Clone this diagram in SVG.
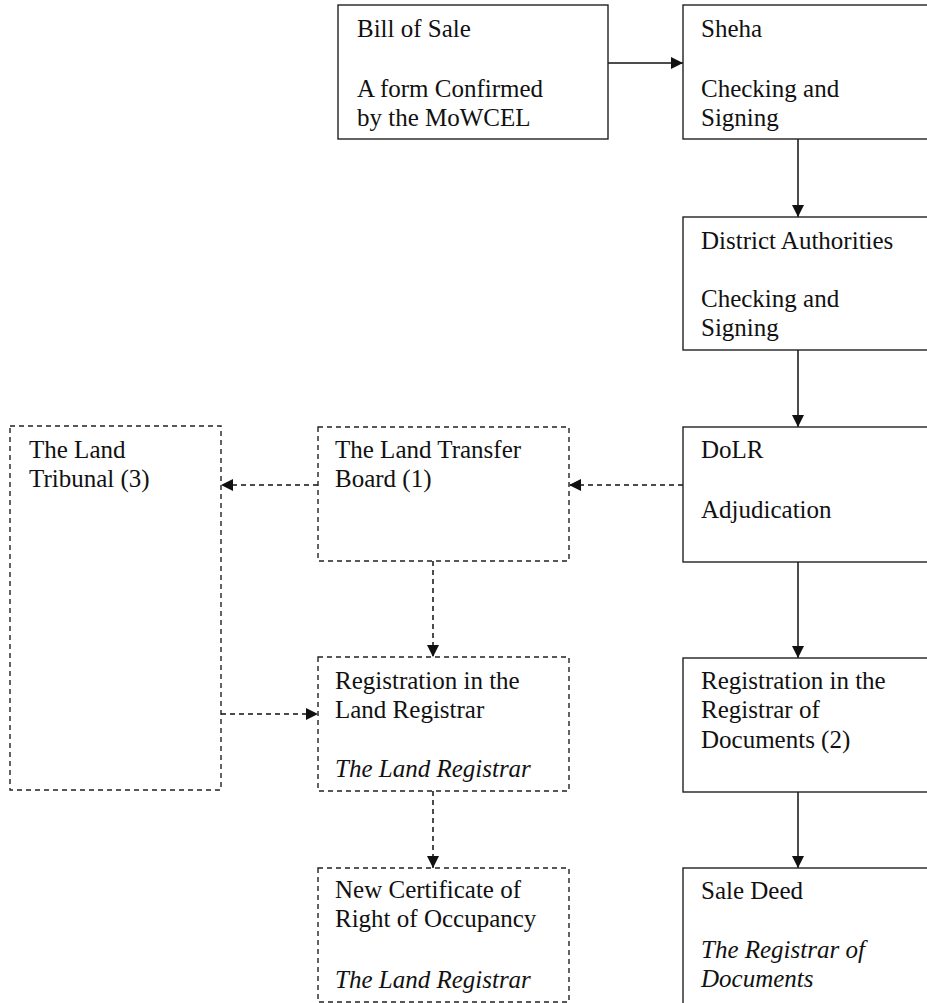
<svg xmlns="http://www.w3.org/2000/svg" width="927" height="1003" viewBox="0 0 927 1003">
<style>
.box{fill:#fff;stroke:#222;stroke-width:1.4}
.dbox{fill:#fff;stroke:#222;stroke-width:1.4;stroke-dasharray:5 4}
.t{font-family:"Liberation Serif","Times New Roman",serif;font-size:25px;fill:#111}
.i{font-style:italic}
.c{stroke:#111;stroke-width:1.5;fill:none}
.d{stroke:#111;stroke-width:1.5;fill:none;stroke-dasharray:5 4}
</style>
<defs>
<marker id="ahv" viewBox="0 0 10 10" refX="10" refY="5" markerWidth="12" markerHeight="12" markerUnits="userSpaceOnUse" orient="auto"><path d="M0,0 L10,5 L0,10 z" fill="#111"/></marker>
</defs>
<g id="connectors">
<line class="c" x1="608" y1="63" x2="683" y2="63" marker-end="url(#ahv)"/>
<line class="c" x1="798" y1="139" x2="798" y2="217" marker-end="url(#ahv)"/>
<line class="c" x1="798" y1="350" x2="798" y2="427" marker-end="url(#ahv)"/>
<line class="c" x1="798" y1="562" x2="798" y2="658" marker-end="url(#ahv)"/>
<line class="c" x1="798" y1="792" x2="798" y2="868" marker-end="url(#ahv)"/>
<line class="d" x1="683" y1="485" x2="569" y2="485" marker-end="url(#ahv)"/>
<line class="d" x1="318" y1="485" x2="221" y2="485" marker-end="url(#ahv)"/>
<line class="d" x1="433" y1="561" x2="433" y2="657" marker-end="url(#ahv)"/>
<line class="d" x1="221" y1="714" x2="318" y2="714" marker-end="url(#ahv)"/>
<line class="d" x1="433" y1="791" x2="433" y2="868" marker-end="url(#ahv)"/>
</g>
<g id="bill-of-sale">
<rect class="box" x="338" y="5" width="270" height="134"/>
<text class="t" x="357" y="37">Bill of Sale</text>
<text class="t" x="357" y="97">A form Confirmed</text>
<text class="t" x="357" y="126">by the MoWCEL</text>
</g>
<g id="sheha">
<rect class="box" x="683" y="5" width="260" height="134"/>
<text class="t" x="701" y="37">Sheha</text>
<text class="t" x="701" y="97">Checking and</text>
<text class="t" x="701" y="126">Signing</text>
</g>
<g id="district-authorities">
<rect class="box" x="683" y="217" width="260" height="133"/>
<text class="t" x="701" y="249">District Authorities</text>
<text class="t" x="701" y="307">Checking and</text>
<text class="t" x="701" y="336">Signing</text>
</g>
<g id="dolr">
<rect class="box" x="683" y="427" width="260" height="135"/>
<text class="t" x="701" y="458">DoLR</text>
<text class="t" x="701" y="518">Adjudication</text>
</g>
<g id="registrar-of-documents">
<rect class="box" x="683" y="658" width="260" height="134"/>
<text class="t" x="701" y="689">Registration in the</text>
<text class="t" x="701" y="718">Registrar of</text>
<text class="t" x="701" y="748">Documents (2)</text>
</g>
<g id="sale-deed">
<rect class="box" x="683" y="868" width="260" height="160"/>
<text class="t" x="701" y="899">Sale Deed</text>
<text class="t i" x="701" y="958">The Registrar of</text>
<text class="t i" x="701" y="987">Documents</text>
</g>
<g id="land-transfer-board">
<rect class="dbox" x="318" y="427" width="251" height="134"/>
<text class="t" x="335" y="458">The Land Transfer</text>
<text class="t" x="335" y="487">Board (1)</text>
</g>
<g id="land-tribunal">
<rect class="dbox" x="10" y="426" width="211" height="364"/>
<text class="t" x="29" y="458">The Land</text>
<text class="t" x="29" y="487">Tribunal (3)</text>
</g>
<g id="land-registrar">
<rect class="dbox" x="318" y="657" width="251" height="134"/>
<text class="t" x="335" y="689">Registration in the</text>
<text class="t" x="335" y="718">Land Registrar</text>
<text class="t i" x="335" y="777">The Land Registrar</text>
</g>
<g id="new-certificate">
<rect class="dbox" x="318" y="868" width="251" height="134"/>
<text class="t" x="335" y="898">New Certificate of</text>
<text class="t" x="335" y="927">Right of Occupancy</text>
<text class="t i" x="335" y="988">The Land Registrar</text>
</g>
</svg>
